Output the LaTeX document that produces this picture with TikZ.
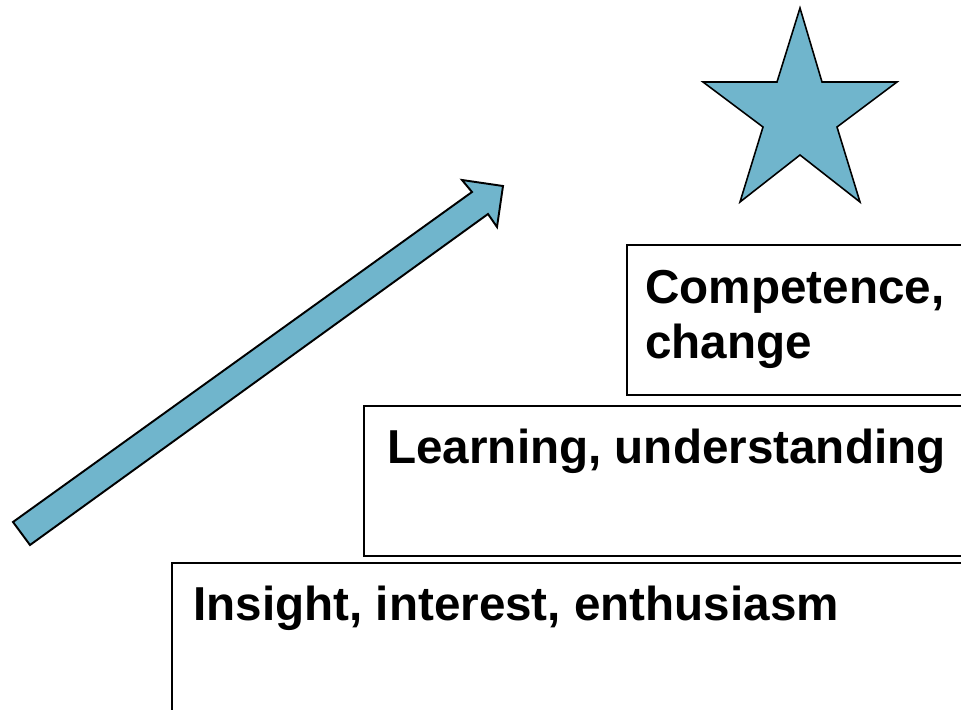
\documentclass[tikz,border=0pt]{standalone}
\usepackage{fontspec}
\setmainfont{Liberation Sans}
\definecolor{skyblue}{RGB}{112,181,204}
\tikzset{
  stepbox/.style={draw=black,line width=0.6pt},
  lbl/.style={anchor=base west,inner sep=0pt,font=\fontsize{27.1}{33}\selectfont\bfseries},
  bluefill/.style={fill=skyblue,draw=black,line join=miter}
}
\begin{document}
\begin{tikzpicture}[x=0.02cm,y=-0.02cm]
\useasboundingbox (0,0) rectangle (961,710);
\clip (0,0) rectangle (961,710);
% steps
\draw[stepbox] (172,563) rectangle (1000,730);
\draw[stepbox] (364,406) rectangle (1000,556);
\draw[stepbox] (627,245) rectangle (1000,395);
\node[lbl] (insight) at (193,620) {Insight, interest, enthusiasm};
\node[lbl] (learn) at (387,463) {Learning, understanding};
\node[lbl] (comp) at (645,303) {Competence,};
\node[lbl] (chg) at (645,358) {change};
% arrow
\draw[bluefill,line width=1.1pt] (13,522)--(472,192)--(462,180)--(503,186)--(497,227)--(488,214)--(30,545)--cycle;
% star
\draw[bluefill,line width=0.9pt] (800,8)--(822,82)--(897,82)--(837,127)--(860,202)--(800,155)--(740,202)--(763,127)--(703,82)--(777,82)--cycle;
\end{tikzpicture}
\end{document}
